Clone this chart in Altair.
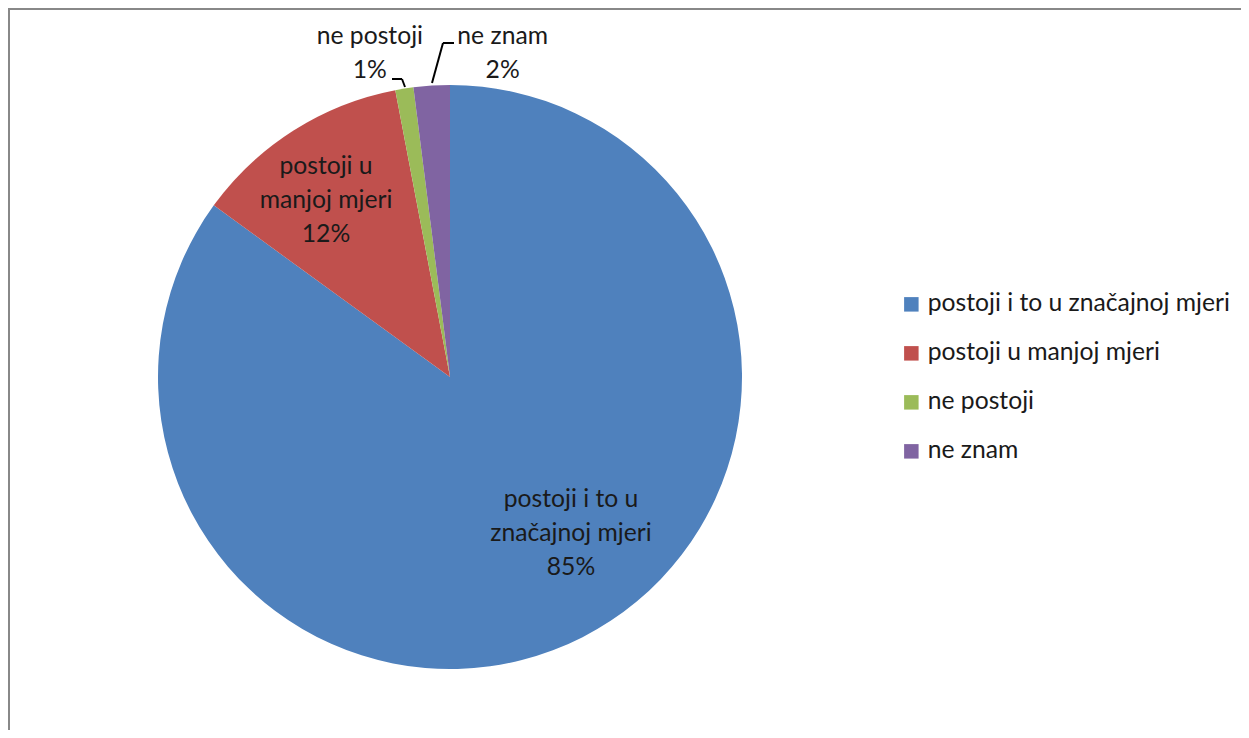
import altair as alt
import pandas as pd

categories = ["postoji i to u značajnoj mjeri", "postoji u manjoj mjeri", "ne postoji", "ne znam"]
values = [85, 12, 1, 2]
label_lines = [["postoji i to u", "značajnoj mjeri"], ["postoji u", "manjoj mjeri"], ["ne postoji"], ["ne znam"]]
colors = ["#4F81BD", "#C0504D", "#9BBB59", "#8064A2"]

df = pd.DataFrame({
    "category": categories,
    "value": values,
    "idx": list(range(len(categories))),
    "label": ["\n".join(l + [f"{v}%"]) for l, v in zip(label_lines, values)],
})

FONT = "Lato"
FS = 24.7
LH = 34
W, H = 1233, 722
CX, CY = 442, 369
R = 292

base = alt.Chart(df)

pie = base.mark_arc(radius=R).encode(
    theta=alt.Theta("value:Q", stack=True),
    order=alt.Order("idx:Q"),
    color=alt.Color(
        "category:N",
        sort=categories,
        scale=alt.Scale(domain=categories, range=colors),
        legend=alt.Legend(
            title=None, orient="none", legendX=891, legendY=284,
            symbolType="square", symbolSize=210, symbolStrokeWidth=0,
            labelFont=FONT, labelFontSize=FS, labelColor="#1a1a1a",
            rowPadding=23, labelOffset=4, labelLimit=400,
        ),
    ),
    x=alt.value(CX), y=alt.value(CY),
)

def label_layer(cat, radius, dx, dy=0):
    return base.transform_window(
        cum="sum(value)", sort=[alt.SortField("idx")]
    ).transform_calculate(
        mid="datum.cum - datum.value / 2"
    ).transform_filter(
        alt.datum.category == cat
    ).mark_text(
        radius=radius, dx=dx, dy=dy, font=FONT, fontSize=FS, lineBreak="\n",
        lineHeight=LH, align="center", baseline="middle", color="#1a1a1a",
    ).encode(
        theta=alt.Theta("mid:Q", scale=alt.Scale(domain=[0, 100], range=[0, 6.283185307]), stack=None),
        text="label:N",
        x=alt.value(CX), y=alt.value(CY),
    )

labels = [
    label_layer(categories[0], 174, 42, 2 - LH),
    label_layer(categories[1], 209, -12, -LH),
    label_layer(categories[2], 327, -29, -LH / 2),
    label_layer(categories[3], 324, 73, -LH / 2),
]

def seg(x1, y1, x2, y2, color="#000000", w=2):
    return alt.Chart(pd.DataFrame({"k": [0]})).mark_rule(color=color, strokeWidth=w).encode(
        x=alt.value(x1), y=alt.value(y1), x2=alt.value(x2), y2=alt.value(y2)
    )

leaders = [
    seg(384, 71, 394, 71), seg(394, 71, 397, 79),
    seg(435, 35, 446, 35), seg(435, 35, 424, 75),
]
border = [
    seg(1, 0, 1, H, color="#888888", w=2),
    seg(0, 1, W, 1, color="#888888", w=2),
]

chart = alt.layer(pie, *labels, *leaders, *border).resolve_scale(theta="independent").properties(
    width=W, height=H, padding=0, autosize=alt.AutoSizeParams(type="none"),
).configure_view(stroke=None)

chart.save("out.html", embed_options={"renderer": "svg", "actions": False})
